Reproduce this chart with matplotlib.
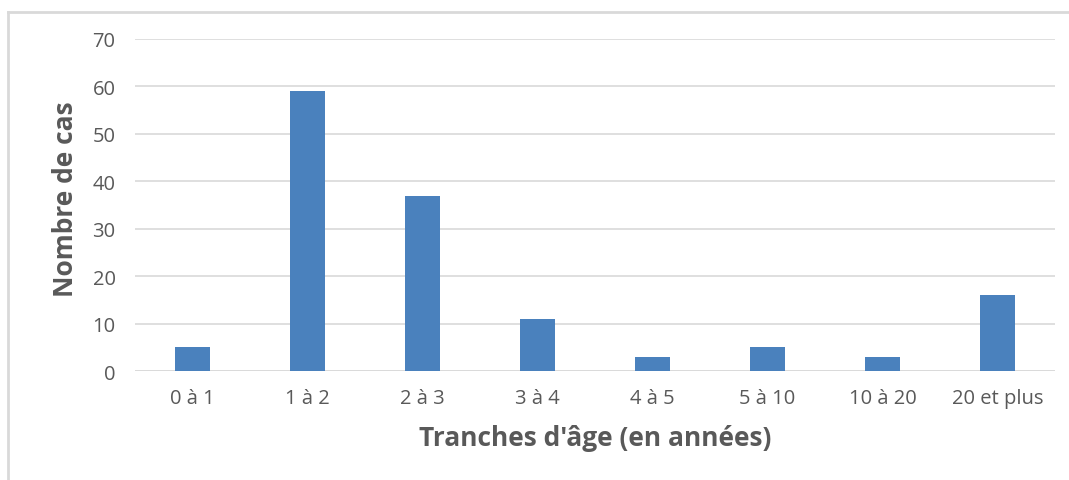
import numpy as np
import matplotlib.pyplot as plt
from matplotlib.lines import Line2D

categories = ["0 à 1", "1 à 2", "2 à 3", "3 à 4", "4 à 5", "5 à 10", "10 à 20", "20 et plus"]
values = [5, 59, 37, 11, 3, 5, 3, 16]
yticks = [0, 10, 20, 30, 40, 50, 60, 70]

plt.rcParams['font.family'] = ['Open Sans', 'DejaVu Sans']

fig = plt.figure(figsize=(10.69, 4.81), dpi=100)
ax = fig.add_axes([135/1069, 1-372/481, 920/1069, 332/481])

x = np.arange(len(categories))
ax.bar(x, values, width=0.31, color="#4a81bd", zorder=3)

ax.set_xlim(-0.5, len(categories)-0.5)
ax.set_ylim(0, 70)
ax.set_yticks(yticks)
ax.set_xticks(x)
ax.set_xticklabels(categories)
ax.grid(axis="y", color="#d9d9d9", linewidth=1.2, zorder=0)
ax.tick_params(axis="both", length=0, labelsize=14.5, colors="#595959")
ax.tick_params(axis="y", pad=14)
ax.tick_params(axis="x", pad=12)
for s in ax.spines.values():
    s.set_visible(False)
ax.axhline(0, color="#d9d9d9", linewidth=1.2, zorder=2)

ax.set_xlabel("Tranches d'âge (en années)", fontsize=19, fontweight="bold", color="#595959", labelpad=12)
ax.set_ylabel("Nombre de cas", fontsize=19, fontweight="bold", color="#595959")
ax.yaxis.set_label_coords(-0.061, 0.52)

# chart frame (left and top edges visible)
fig.add_artist(Line2D([8/1069, 8/1069], [0, 1-13/481], color="#d9d9d9", linewidth=2, transform=fig.transFigure))
fig.add_artist(Line2D([8/1069, 1], [1-13/481, 1-13/481], color="#d9d9d9", linewidth=2, transform=fig.transFigure))

fig.savefig("out.png", dpi=100)
